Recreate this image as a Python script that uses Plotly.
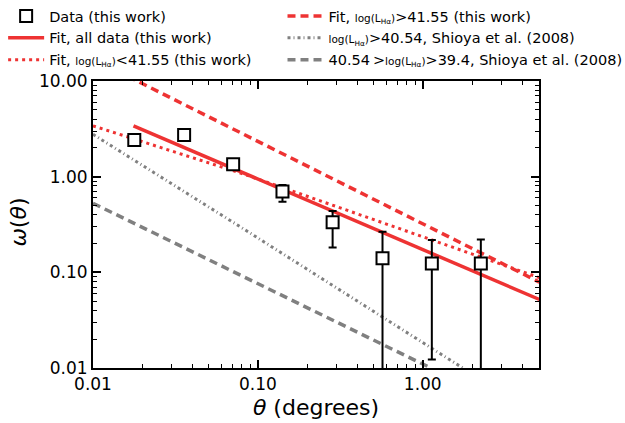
import numpy as np
import plotly.graph_objects as go

# ---- data ----
theta = [0.0178, 0.0357, 0.0708, 0.141, 0.284, 0.57, 1.135, 2.25]
omega = [2.42, 2.73, 1.35, 0.70, 0.333, 0.140, 0.124, 0.124]
omega_hi = [2.42, 2.73, 1.35, 0.82, 0.437, 0.266, 0.218, 0.221]
omega_lo = [2.42, 2.73, 1.35, 0.548, 0.182, 0.001, 0.0123, 0.001]

fit_all_x = [0.0176, 5.1]
fit_all_y = [3.40, 0.052]
fit_hi_x = [0.01, 5.1]
fit_hi_y = [17.0, 0.079]
fit_lo_x = [0.01, 0.084, 5.1]
fit_lo_y = [3.40, 1.05, 0.088]
shioya1_x = [0.01, 0.078, 1.75]
shioya1_y = [2.77, 0.30, 0.0100]
shioya2_x = [0.01, 1.12]
shioya2_y = [0.527, 0.0100]

RED = "#ee3333"
GRAY = "#808080"
LOGL = '<span style="font-size:10.5px">log(L<sub>Hα</sub>)</span>'

fig = go.Figure()

fig.add_trace(go.Scatter(x=shioya2_x, y=shioya2_y, mode="lines",
                         line=dict(color=GRAY, width=3.5, dash="8px,5px"),
                         name="40.54&#8201;>" + LOGL + ">39.4, Shioya et al. (2008)",
                         legend="legend2", legendrank=3))
fig.add_trace(go.Scatter(x=shioya1_x, y=shioya1_y, mode="lines",
                         line=dict(color=GRAY, width=3, dash="3px,3px,1px,3px"),
                         name=LOGL + ">40.54, Shioya et al. (2008)",
                         legend="legend2", legendrank=2))
fig.add_trace(go.Scatter(x=fit_hi_x, y=fit_hi_y, mode="lines",
                         line=dict(color=RED, width=3.5, dash="8px,5px"),
                         name="Fit, " + LOGL + ">41.55 (this work)",
                         legend="legend2", legendrank=1))
fig.add_trace(go.Scatter(x=fit_lo_x, y=fit_lo_y, mode="lines",
                         line=dict(color=RED, width=3, dash="3px,4px"),
                         name="Fit, " + LOGL + "<41.55 (this work)",
                         legend="legend", legendrank=3))
fig.add_trace(go.Scatter(x=fit_all_x, y=fit_all_y, mode="lines",
                         line=dict(color=RED, width=3.5),
                         name="Fit, all data (this work)",
                         legend="legend", legendrank=2))

err_plus = [h - v for h, v in zip(omega_hi, omega)]
err_minus = [v - l for v, l in zip(omega, omega_lo)]
fig.add_trace(go.Scatter(x=theta, y=omega, mode="markers",
                         marker=dict(symbol="square", size=12, color="white",
                                     line=dict(color="black", width=2)),
                         error_y=dict(type="data", symmetric=False, array=err_plus,
                                      arrayminus=err_minus, color="black",
                                      thickness=2, width=4),
                         name="Data (this work)",
                         legend="legend", legendrank=1))

axis_common = dict(showline=True, linecolor="black", linewidth=2, mirror="allticks",
                   ticks="inside", ticklen=8, tickwidth=1.5, tickcolor="black",
                   showgrid=False, zeroline=False,
                   dtick=1, tickformat=".2f",
                   minor=dict(ticks="inside", ticklen=4, tickwidth=1, tickcolor="black",
                              dtick="D1", showgrid=False),
                   tickfont=dict(family="DejaVu Sans", size=17, color="black"))

fig.update_xaxes(type="log", range=[-2, 0.705],
                 title=dict(text="<i>θ</i> (degrees)",
                            font=dict(family="DejaVu Sans", size=22, color="black"),
                            standoff=6),
                 **axis_common)
fig.update_yaxes(type="log", range=[-2, 1], **axis_common)

fig.add_annotation(text="<i>ω</i>(<i>θ</i>)", xref="paper", yref="paper",
                   x=-0.166, y=0.51, xanchor="center", yanchor="middle",
                   textangle=-90, showarrow=False,
                   font=dict(family="DejaVu Sans", size=22, color="black"))

legend_common = dict(font=dict(family="DejaVu Sans", size=14.5, color="black"),
                     bgcolor="rgba(0,0,0,0)", xref="container", yref="container",
                     xanchor="left", yanchor="top", itemwidth=36,
                     traceorder="normal", tracegroupgap=0)

fig.update_layout(
    width=625, height=423,
    margin=dict(l=93, r=86, t=81, b=55, autoexpand=False),
    paper_bgcolor="white", plot_bgcolor="white",
    showlegend=True,
    legend=dict(x=0.005, y=1.0, **legend_common),
    legend2=dict(x=0.452, y=1.0, **legend_common),
)

fig.write_html("out.html")
